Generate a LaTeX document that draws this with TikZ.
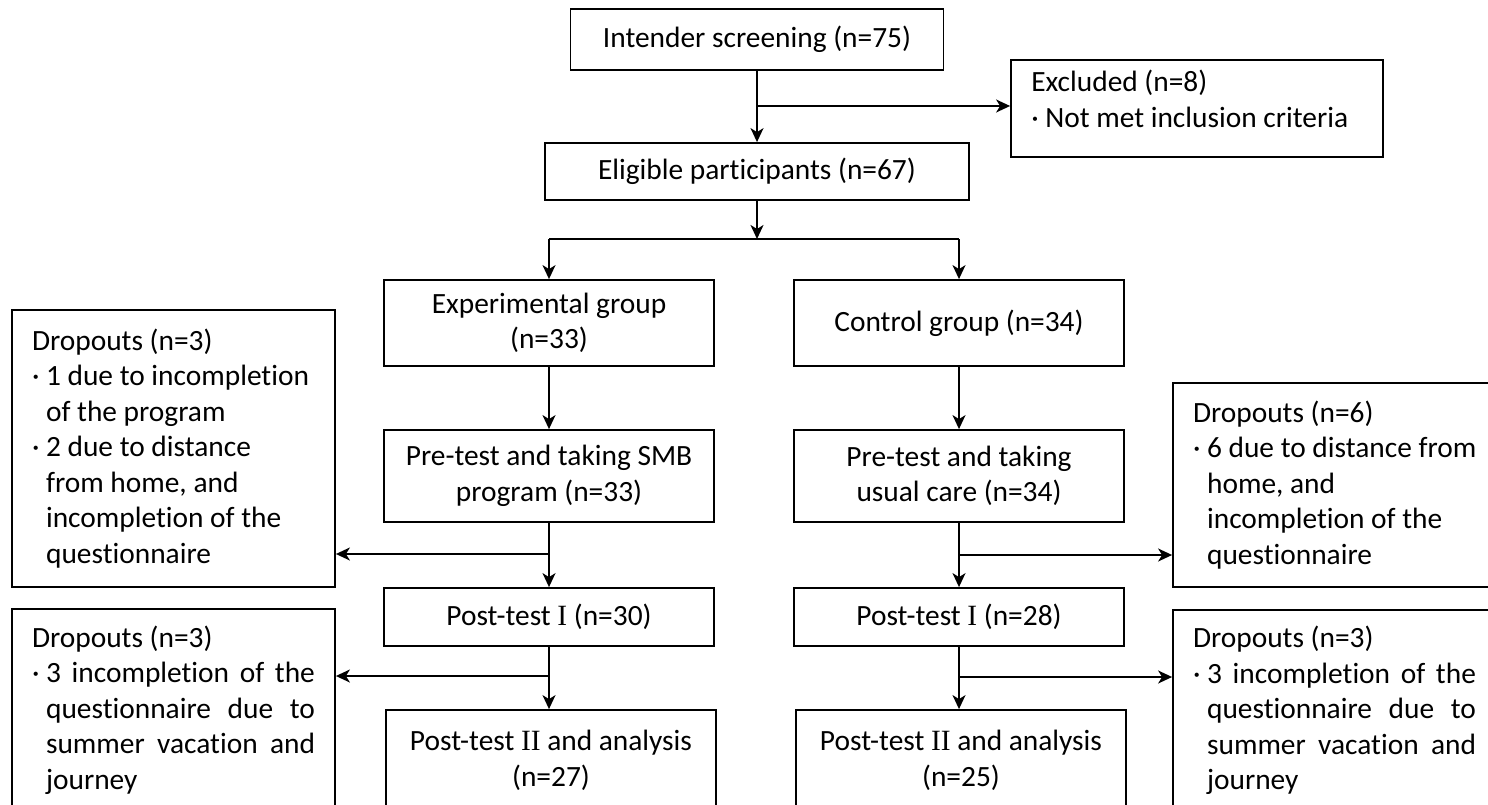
\documentclass[tikz,border=0pt]{standalone}
\usepackage{fontspec}
\setmainfont{Carlito}[Ligatures=NoCommon]
\newfontfamily\romnum{Liberation Serif}
\usetikzlibrary{arrows.meta}

% bullet width and justified line helpers
\newlength\bulw
\newlength\jw
\setlength\jw{283pt}
\hfuzz=60pt
\hbadness=10000
\newcommand\ind{\phantom{·\ }}
\newcommand\jl[1]{\settowidth\bulw{·\ }\makebox[\dimexpr\jw-\bulw\relax][s]{#1}}

\begin{document}
\begin{tikzpicture}[x=1pt,y=-1pt,
  every node/.style={font=\fontsize{29.4}{35.5}\selectfont},
  box/.style={draw, line width=1.8pt, inner sep=0pt, align=center},
  side/.style={draw, line width=1.8pt, inner xsep=20pt, inner ysep=0pt,
    text width=283pt, align=flush left},
  arr/.style={line width=1.8pt, -{Stealth[length=14pt,width=13pt,inset=4pt]}},
  ln/.style={line width=1.8pt}]
\useasboundingbox (0,0) rectangle (1488,805);
\clip (0,0) rectangle (1488,805);

% main column boxes
\node[box, minimum width=373pt, minimum height=61pt] (scr) at (757,39.5)
  {Intender screening (n=75)};
\node[box, minimum width=424pt, minimum height=57pt] (elig) at (757,171.5)
  {Eligible participants (n=67)};
\node[draw, line width=1.8pt, inner sep=0pt, minimum width=372pt,
  minimum height=97pt] (excl) at (1197,108.5) {};
\node[anchor=north west, inner sep=0pt, align=left, xshift=21pt, yshift=-11pt]
  (exclt) at (excl.north west) {Excluded (n=8)\\·\ Not met inclusion criteria};

\node[box, minimum width=330pt, minimum height=86pt] (exp) at (549,323)
  {Experimental group\\(n=33)};
\node[box, minimum width=330pt, minimum height=86pt] (ctl) at (959,323)
  {Control group (n=34)};
\node[box, minimum width=330pt, minimum height=92pt] (pre1) at (549,476)
  {Pre-test and taking SMB\\program (n=33)};
\node[box, minimum width=330pt, minimum height=92pt] (pre2) at (959,476)
  {Pre-test and taking\\usual care (n=34)};
\node[box, minimum width=330pt, minimum height=58pt] (pa1) at (549,617)
  {Post-test {\romnum I} (n=30)};
\node[box, minimum width=330pt, minimum height=58pt] (pb1) at (959,617)
  {Post-test {\romnum I} (n=28)};
\node[box, minimum width=330pt, minimum height=101pt] (pa2) at (551,760.5)
  {Post-test {\romnum II} and analysis\\(n=27)};
\node[box, minimum width=330pt, minimum height=101pt] (pb2) at (961,760.5)
  {Post-test {\romnum II} and analysis\\(n=25)};

% dropout boxes
\node[side, minimum height=277pt] (dl1) at (173.5,448.5)
  {\mbox{Dropouts (n=3)}\\
   \mbox{·\ 1 due to incompletion}\\
   \mbox{\ind of the program}\\
   \mbox{·\ 2 due to distance}\\
   \mbox{\ind from home, and}\\
   \mbox{\ind incompletion of the}\\
   \mbox{\ind questionnaire}};
\node[side, minimum height=202pt] (dl2) at (173.5,710)
  {\mbox{Dropouts (n=3)}\\
   \mbox{·\ \jl{3 incompletion of the}}\\
   \mbox{\ind\jl{questionnaire due to}}\\
   \mbox{\ind\jl{summer vacation and}}\\
   \mbox{\ind journey}};
\node[side, minimum height=204pt] (dr1) at (1334.5,485)
  {\mbox{Dropouts (n=6)}\\
   \mbox{·\ 6 due to distance from}\\
   \mbox{\ind home, and}\\
   \mbox{\ind incompletion of the}\\
   \mbox{\ind questionnaire}};
\node[side, minimum height=201pt] (dr2) at (1334.5,710.5)
  {\mbox{Dropouts (n=3)}\\
   \mbox{·\ \jl{3 incompletion of the}}\\
   \mbox{\ind\jl{questionnaire due to}}\\
   \mbox{\ind\jl{summer vacation and}}\\
   \mbox{\ind journey}};

% branch points
\coordinate (sx) at (757,106);
\coordinate (split) at (757,239);
\coordinate (la) at (549,554);
\coordinate (lb) at (549,676);
\coordinate (ra) at (959,555);
\coordinate (rb) at (959,677);

% connectors
\draw[arr] (scr.south) -- (elig.north);
\draw[arr] (sx) -- (excl.west |- sx);
\draw[arr] (elig.south) -- (split);
\draw[ln] (exp.north |- split) -- (ctl.north |- split);
\draw[arr] (exp.north |- split) -- (exp.north);
\draw[arr] (ctl.north |- split) -- (ctl.north);
\draw[arr] (exp.south) -- (pre1.north);
\draw[arr] (ctl.south) -- (pre2.north);
\draw[arr] (pre1.south) -- (pa1.north);
\draw[arr] (pre2.south) -- (pb1.north);
\draw[arr] (pa1.south) -- (pa1.south |- pa2.north);
\draw[arr] (pb1.south) -- (pb1.south |- pb2.north);
\draw[arr] (la) -- (dl1.east |- la);
\draw[arr] (lb) -- (dl2.east |- lb);
\draw[arr] (ra) -- (dr1.west |- ra);
\draw[arr] (rb) -- (dr2.west |- rb);
\end{tikzpicture}
\end{document}
